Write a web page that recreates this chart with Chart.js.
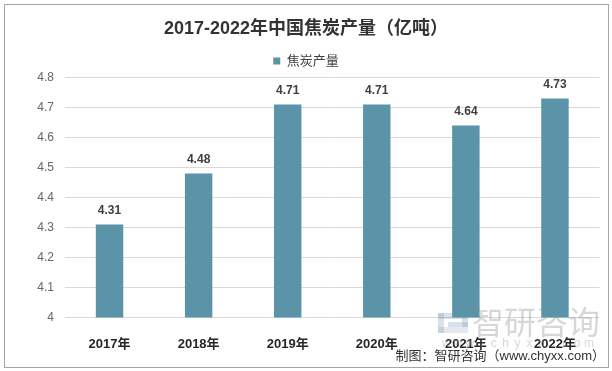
<!DOCTYPE html>
<html>
<head>
<meta charset="utf-8">
<script src="https://cdn.jsdelivr.net/npm/chart.js@4/dist/chart.umd.min.js"></script>
<style>
  html, body { margin: 0; padding: 0; background: #fff; }
  #wrap { width: 612px; height: 371px; position: relative; }
</style>
</head>
<body>
<div id="wrap"><canvas id="c" width="612" height="371"></canvas></div>
<script>
const years = ['2017年', '2018年', '2019年', '2020年', '2021年', '2022年'];
const cokeOutput = [4.31, 4.48, 4.71, 4.71, 4.64, 4.73];
const seriesName = '焦炭产量';
const chartTitle = '2017-2022年中国焦炭产量（亿吨）';
const yMin = 4, yMax = 4.8, yStep = 0.1;
const creditText = '制图：智研咨询（www.chyxx.com）';
const watermarkText = '智研咨询';
const watermarkUrl = 'www.chyxx.com';

const FONT = "'Liberation Sans', 'Noto Sans CJK SC', sans-serif";
const BAR = '#5b93a8';

const framePlugin = {
  id: 'frame',
  beforeDraw(chart) {
    const ctx = chart.ctx;
    ctx.save();
    ctx.fillStyle = '#ffffff';
    ctx.fillRect(0, 0, chart.width, chart.height);
    ctx.strokeStyle = '#a6a6a6';
    ctx.lineWidth = 1;
    ctx.strokeRect(4.5, 4.5, 604, 363);
    ctx.restore();
  }
};

const watermarkPlugin = {
  id: 'watermark',
  beforeDatasetsDraw(chart) {
    const ctx = chart.ctx;
    ctx.save();
    ctx.fillStyle = 'rgba(120,150,175,0.28)';
    ctx.fillRect(438, 313, 30, 6);
    ctx.fillRect(438, 313, 6, 20);
    ctx.fillRect(462, 313, 6, 14);
    ctx.fillRect(448, 322, 20, 5);
    ctx.fillStyle = 'rgba(150,165,180,0.25)';
    ctx.fillRect(438, 327, 30, 6);
    ctx.fillStyle = 'rgba(140,145,150,0.36)';
    ctx.font = "32px 'Noto Sans CJK SC', sans-serif";
    ctx.textAlign = 'left';
    ctx.textBaseline = 'middle';
    ctx.fillText(watermarkText, 472, 322);
    ctx.font = "12px " + FONT;
    ctx.fillStyle = 'rgba(150,155,160,0.4)';
    ctx.textAlign = 'center';
    const chars = watermarkUrl.split('');
    const x0 = 446, x1 = 589;
    chars.forEach((ch, i) => {
      ctx.fillText(ch, x0 + (x1 - x0) * i / (chars.length - 1), 344);
    });
    ctx.restore();
  }
};

const valueLabelPlugin = {
  id: 'valueLabels',
  afterDatasetsDraw(chart) {
    const ctx = chart.ctx;
    ctx.save();
    ctx.font = "bold 12px " + FONT;
    ctx.fillStyle = '#404040';
    ctx.textAlign = 'center';
    ctx.textBaseline = 'middle';
    chart.getDatasetMeta(0).data.forEach((bar, i) => {
      const v = chart.data.datasets[0].data[i];
      ctx.fillText(v.toFixed(2), bar.x, bar.y - 13.5);
    });
    ctx.restore();
  }
};

const creditPlugin = {
  id: 'credit',
  afterDraw(chart) {
    const ctx = chart.ctx;
    ctx.save();
    ctx.font = "13px " + FONT;
    ctx.fillStyle = '#333333';
    ctx.textAlign = 'right';
    ctx.textBaseline = 'middle';
    ctx.fillText(creditText, 605, 356);
    ctx.restore();
  }
};

new Chart(document.getElementById('c'), {
  type: 'bar',
  data: {
    labels: years,
    datasets: [{
      label: seriesName,
      data: cokeOutput,
      backgroundColor: BAR,
      borderWidth: 0,
      barPercentage: 0.308,
      categoryPercentage: 1.0
    }]
  },
  options: {
    responsive: false,
    animation: false,
    devicePixelRatio: 1,
    layout: { padding: { top: 0, left: 12.5, right: 12.5, bottom: 0 } },
    plugins: {
      title: {
        display: true,
        text: chartTitle,
        color: '#333333',
        font: { family: FONT, size: 18, weight: 'bold', lineHeight: 1.2 },
        padding: { top: 18, bottom: 5 }
      },
      legend: {
        display: true,
        labels: {
          boxWidth: 7,
          boxHeight: 7,
          padding: 10,
          color: '#404040',
          font: { family: FONT, size: 13 }
        }
      },
      tooltip: { enabled: false }
    },
    scales: {
      x: {
        grid: { display: false },
        border: { display: false },
        ticks: {
          color: '#262626',
          padding: 11.4,
          font: { family: FONT, size: 13, weight: 'bold' }
        },
        afterFit(scale) { scale.height = 53.5; }
      },
      y: {
        min: yMin,
        max: yMax,
        grid: { color: '#d9d9d9', drawTicks: false },
        border: { display: false },
        ticks: {
          stepSize: yStep,
          color: '#666666',
          padding: 11,
          font: { family: FONT, size: 12 },
          callback: v => String(Math.round(v * 10) / 10)
        },
        afterFit(scale) { scale.width = 52.5; }
      }
    }
  },
  plugins: [framePlugin, watermarkPlugin, valueLabelPlugin, creditPlugin]
});
</script>
</body>
</html>
